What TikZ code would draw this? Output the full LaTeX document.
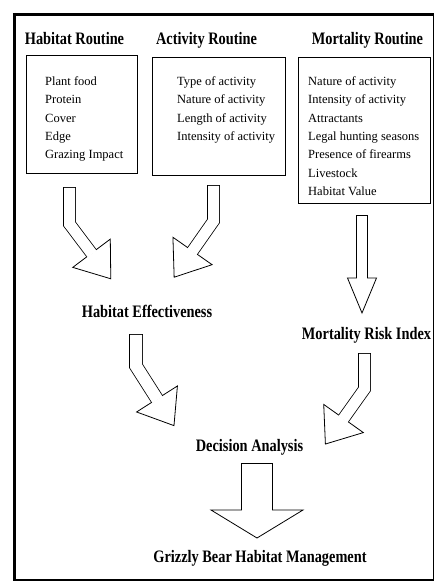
\documentclass[tikz,border=0pt]{standalone}
\usepackage{fontspec}
\setmainfont{Liberation Serif}
\newfontfamily\headfont[FakeStretch=0.82]{Liberation Serif}
\usetikzlibrary{calc}

% hollow block arrow: path, base of head, angle, shaft width, head half width, head length
\newcommand{\hollowarrow}[6]{%
  \draw[line width=#4+1.6, line join=miter] #1;
  \filldraw[fill=white, line width=0.8, line join=miter, shift={(#2)}, rotate=#3]
    (0,-#5) -- (#6,0) -- (0,#5) -- cycle;
  \draw[white, line width=#4, line join=miter, shorten <=0.8pt, shorten >=-1pt] #1;
}

\begin{document}
\begin{tikzpicture}[x=1pt, y=1pt,
  title/.style={font=\headfont\bfseries\fontsize{17.5}{20}\selectfont, anchor=base},
  box/.style={draw, line width=0.8pt, anchor=north west},
  list/.style={font=\fontsize{12.5}{18.3}\selectfont, align=left, anchor=north west}]
\tikzstyle{every node}+=[inner sep=0pt]
\useasboundingbox (0,0) rectangle (435,-582);
% frame
\draw[line width=3.4] (14.5,-12.8) -- (14.5,-580.5);
\draw[line width=3.4] (12.8,-14.5) -- (433.5,-14.5);
\draw[line width=0.8] (433,-14.5) -- (433,-580);
\draw[line width=2] (13,-579.5) -- (433.5,-579.5);
% routines
\node[title] (hr) at (74.5,-44) {Habitat Routine};
\node[title] (ar) at (206.5,-44) {Activity Routine};
\node[title] (mr) at (367.5,-44) {Mortality Routine};
\node[box, minimum width=111pt, minimum height=118pt] (hbox) at (26,-55) {};
\node[box, minimum width=133pt, minimum height=118pt] (abox) at (152,-57) {};
\node[box, minimum width=132pt, minimum height=146pt] (mbox) at (298,-57) {};
\node[list] (hlist) at (45,-76.5) {Plant food\\Protein\\Cover\\Edge\\Grazing Impact};
\node[list] (alist) at (177,-76.5) {Type of activity\\Nature of activity\\Length of activity\\Intensity of activity};
\node[list] (mlist) at (308,-76.5) {Nature of activity\\Intensity of activity\\Attractants\\Legal hunting seasons\\Presence of firearms\\Livestock\\Habitat Value};
% results
\node[title] (he) at (147,-317) {Habitat Effectiveness};
\node[title] (mri) at (366.5,-339) {Mortality Risk Index};
\node[title] (da) at (249.5,-451) {Decision Analysis};
\node[title] (gb) at (260,-562) {Grizzly Bear Habitat Management};
% arrows
\coordinate (a1s) at (69.5,-187);
\coordinate (a1b) at (69.5,-224);
\coordinate (a1e) at ($(a1b)+(-53:36.6)$);
\hollowarrow{(a1s) -- (a1b) -- (a1e)}{a1e}{-53}{11}{23.5}{32}
\coordinate (a2s) at (213.5,-185);
\coordinate (a2b) at (213.5,-221);
\coordinate (a2e) at ($(a2b)+(-125:36.6)$);
\hollowarrow{(a2s) -- (a2b) -- (a2e)}{a2e}{-125}{11}{23.9}{32}
\coordinate (a3s) at (362,-215);
\coordinate (a3e) at (362,-278);
\hollowarrow{(a3s) -- (a3e)}{a3e}{-90}{10}{14.5}{35}
\coordinate (a4s) at (136,-334);
\coordinate (a4b) at (136,-366);
\coordinate (a4e) at ($(a4b)+(-57.5:39.1)$);
\hollowarrow{(a4s) -- (a4b) -- (a4e)}{a4e}{-57.5}{12}{24.2}{31.6}
\coordinate (a5s) at (364.5,-353);
\coordinate (a5b) at (364.5,-389);
\coordinate (a5e) at ($(a5b)+(-125.4:36.2)$);
\hollowarrow{(a5s) -- (a5b) -- (a5e)}{a5e}{-125.4}{11}{24.3}{31.3}
\coordinate (a6s) at (257,-463);
\coordinate (a6e) at (257,-510);
\hollowarrow{(a6s) -- (a6e)}{a6e}{-90}{30}{46}{28}
\end{tikzpicture}
\end{document}
